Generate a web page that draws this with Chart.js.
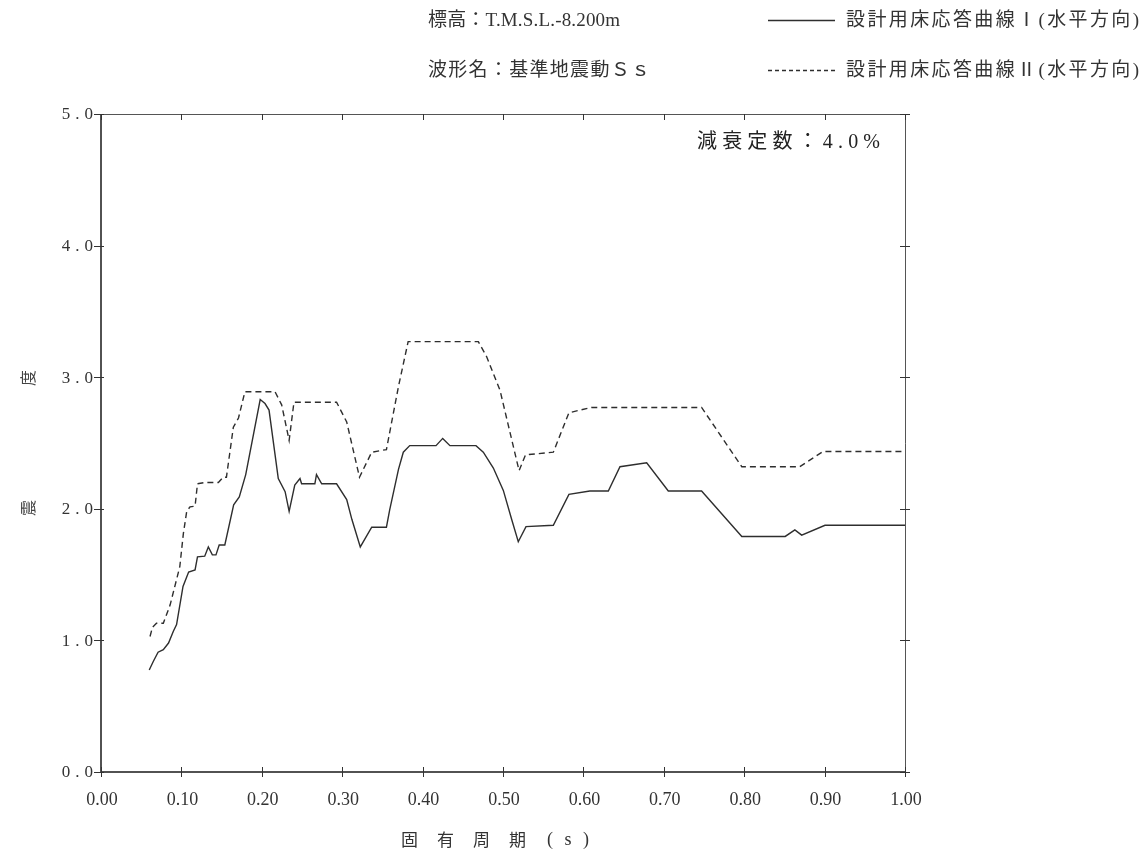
<!DOCTYPE html>
<html lang="ja">
<head>
<meta charset="utf-8">
<title>設計用床応答曲線</title>
<script src="https://cdn.jsdelivr.net/npm/chart.js@4/dist/chart.umd.min.js"></script>
<style>
  html, body { margin: 0; padding: 0; background: #ffffff; }
  #wrap { width: 1141px; height: 855px; position: relative; }
</style>
</head>
<body>
<div id="wrap"><canvas id="c" width="1141" height="855"></canvas></div>
<script>
// 固有周期 (s) と 震度 の組 — 設計用床応答曲線 I (水平方向)
const periodI = [0.060,0.065,0.071,0.0775,0.084,0.090,0.094,0.102,0.109,0.117,0.120,0.129,0.1335,0.1385,0.143,0.147,0.154,0.165,0.172,0.180,0.198,0.204,0.209,0.2205,0.229,0.234,0.241,0.2475,0.2495,0.266,0.268,0.2745,0.293,0.3056,0.312,0.3225,0.3367,0.355,0.359,0.370,0.376,0.384,0.4167,0.425,0.434,0.4664,0.4755,0.488,0.5004,0.511,0.519,0.5286,0.5626,0.582,0.608,0.631,0.6455,0.6787,0.7056,0.747,0.797,0.851,0.863,0.8715,0.9005,1.0];
const accelI  = [0.775,0.84,0.91,0.93,0.98,1.07,1.12,1.41,1.52,1.535,1.635,1.64,1.71,1.65,1.65,1.725,1.725,2.03,2.09,2.26,2.83,2.80,2.75,2.23,2.13,1.98,2.18,2.23,2.19,2.19,2.26,2.19,2.19,2.07,1.92,1.71,1.86,1.86,1.99,2.30,2.43,2.48,2.48,2.535,2.48,2.48,2.43,2.31,2.14,1.915,1.75,1.865,1.875,2.11,2.135,2.135,2.32,2.35,2.135,2.135,1.79,1.79,1.84,1.80,1.875,1.875];

// 設計用床応答曲線 II (水平方向)
const periodII = [0.061,0.064,0.069,0.0775,0.086,0.098,0.1024,0.1066,0.1107,0.117,0.120,0.129,0.146,0.152,0.156,0.1646,0.171,0.179,0.2164,0.2247,0.234,0.240,0.293,0.3056,0.3215,0.3367,0.355,0.370,0.382,0.4693,0.4797,0.4963,0.520,0.528,0.5626,0.582,0.610,0.747,0.797,0.869,0.898,1.0];
const accelII  = [1.03,1.10,1.13,1.13,1.27,1.56,1.81,1.98,2.015,2.02,2.19,2.20,2.20,2.24,2.24,2.62,2.69,2.89,2.89,2.79,2.52,2.81,2.81,2.66,2.24,2.43,2.45,2.93,3.27,3.27,3.155,2.90,2.29,2.41,2.43,2.73,2.77,2.77,2.32,2.32,2.435,2.435];

// 目盛
const xTicks = [0.0,0.1,0.2,0.3,0.4,0.5,0.6,0.7,0.8,0.9,1.0];
const xTickLabels = ['0.00','0.10','0.20','0.30','0.40','0.50','0.60','0.70','0.80','0.90','1.00'];
const yTicks = [0,1,2,3,4,5];
const yTickLabels = ['0.0','1.0','2.0','3.0','4.0','5.0'];

// 表示文字
const seriesNames = ['設計用床応答曲線Ⅰ(水平方向)', '設計用床応答曲線Ⅱ(水平方向)'];
const headerLines = ['標高：T.M.S.L.-8.200m', '波形名：基準地震動Ｓｓ'];
const dampingText = '減衰定数：4.0%';
const xTitleMain = '固有周期';
const xTitleUnit = '(s)';
const yTitleChars = ['震', '度'];

const toPoints = (xs, ys) => xs.map((x, i) => ({ x: x, y: ys[i] }));

const LINE = '#2e2e2e';
const DASH = [6, 4];
// 欧文はセリフ体、和文は Noto Sans CJK
const MIXED = '"Liberation Serif", "Noto Sans CJK JP", serif';
const CJK = '"Noto Sans CJK JP", "Noto Sans CJK SC", sans-serif';
const NUM = '"Liberation Serif", "DejaVu Serif", serif';

// 指定幅に収まるよう字間を調整して描く
function spacedText(ctx, text, x, y, width) {
  ctx.letterSpacing = '0px';
  const w = ctx.measureText(text).width;
  const n = Array.from(text).length;
  const gap = n > 1 ? (width - w) / (n - 1) : 0;
  ctx.letterSpacing = gap.toFixed(2) + 'px';
  ctx.fillText(text, x, y);
  ctx.letterSpacing = '0px';
}

const framePlugin = {
  id: 'frame',
  afterDraw(chart) {
    const ctx = chart.ctx;
    const a = chart.chartArea;
    const xs = chart.scales.x, ys = chart.scales.y;
    ctx.save();

    // 枠
    ctx.strokeStyle = '#555';
    ctx.lineWidth = 1;
    ctx.beginPath();
    ctx.moveTo(a.left, a.top + 0.5); ctx.lineTo(a.right + 0.5, a.top + 0.5);
    ctx.lineTo(a.right + 0.5, a.bottom);
    ctx.stroke();
    ctx.strokeStyle = '#1a1a1a';
    ctx.lineWidth = 1.5;
    ctx.beginPath();
    ctx.moveTo(a.left, a.top); ctx.lineTo(a.left, a.bottom); ctx.lineTo(a.right + 0.5, a.bottom);
    ctx.stroke();

    // 目盛線
    ctx.lineWidth = 1;
    ctx.strokeStyle = '#333';
    ctx.beginPath();
    xTicks.forEach(v => {
      const px = Math.round(xs.getPixelForValue(v)) + 0.5;
      ctx.moveTo(px, a.bottom - 5); ctx.lineTo(px, a.bottom + 5);
      ctx.moveTo(px, a.top); ctx.lineTo(px, a.top + 6);
    });
    yTicks.forEach(v => {
      const py = Math.round(ys.getPixelForValue(v)) + 0.5;
      ctx.moveTo(a.left - 7, py); ctx.lineTo(a.left + 3, py);
      ctx.moveTo(a.right - 5, py); ctx.lineTo(a.right + 5, py);
    });
    ctx.stroke();

    // 目盛ラベル
    ctx.fillStyle = '#333';
    ctx.font = '18px ' + NUM;
    ctx.letterSpacing = '0px';
    ctx.textBaseline = 'middle';
    ctx.textAlign = 'center';
    xTicks.forEach((v, i) => {
      ctx.fillText(xTickLabels[i], xs.getPixelForValue(v) + 1, a.bottom + 28);
    });
    ctx.font = '17px ' + NUM;
    ctx.letterSpacing = '5px';
    ctx.textAlign = 'right';
    yTicks.forEach((v, i) => {
      ctx.fillText(yTickLabels[i], a.left - 3, ys.getPixelForValue(v) + 1);
    });
    ctx.letterSpacing = '0px';

    // 軸タイトル
    ctx.textAlign = 'left';
    ctx.font = '17px ' + CJK;
    spacedText(ctx, xTitleMain, 401, 840, 125);
    ctx.font = '18px ' + NUM;
    spacedText(ctx, xTitleUnit, 547, 840, 42);

    ctx.font = '16px ' + CJK;
    ctx.fillStyle = '#444';
    ctx.textAlign = 'center';
    const yTitlePos = [508, 378];
    yTitleChars.forEach((ch, i) => {
      ctx.save();
      ctx.translate(28, yTitlePos[i]);
      ctx.rotate(-Math.PI / 2);
      ctx.fillText(ch, 0, 0);
      ctx.restore();
    });

    // 減衰定数
    ctx.textAlign = 'left';
    ctx.font = '20px ' + MIXED;
    ctx.fillStyle = '#222';
    spacedText(ctx, dampingText, 697, 143, 183);

    // 見出しと凡例
    ctx.font = '19px ' + MIXED;
    ctx.fillStyle = '#333';
    spacedText(ctx, headerLines[0], 428, 21, 192);
    spacedText(ctx, headerLines[1], 428, 71, 222);

    ctx.strokeStyle = LINE;
    ctx.lineWidth = 1.3;
    ctx.beginPath();
    ctx.moveTo(768, 20.5); ctx.lineTo(835, 20.5);
    ctx.stroke();
    ctx.setLineDash([4, 3]);
    ctx.beginPath();
    ctx.moveTo(768, 70.5); ctx.lineTo(835, 70.5);
    ctx.stroke();
    ctx.setLineDash([]);

    spacedText(ctx, seriesNames[0], 846, 21, 293);
    spacedText(ctx, seriesNames[1], 846, 71, 293);

    ctx.restore();
  }
};

new Chart(document.getElementById('c'), {
  type: 'line',
  data: {
    datasets: [
      {
        label: seriesNames[0],
        data: toPoints(periodI, accelI),
        borderColor: LINE,
        borderWidth: 1.4,
        pointRadius: 0,
        tension: 0,
        fill: false
      },
      {
        label: seriesNames[1],
        data: toPoints(periodII, accelII),
        borderColor: LINE,
        borderWidth: 1.4,
        borderDash: DASH,
        pointRadius: 0,
        tension: 0,
        fill: false
      }
    ]
  },
  options: {
    responsive: false,
    devicePixelRatio: 1,
    animation: false,
    events: [],
    layout: { padding: { left: 101, top: 114, right: 236, bottom: 83 } },
    plugins: {
      legend: { display: false },
      title: { display: false },
      tooltip: { enabled: false }
    },
    scales: {
      x: { type: 'linear', min: 0, max: 1, display: false },
      y: { type: 'linear', min: 0, max: 5, display: false }
    }
  },
  plugins: [framePlugin]
});
</script>
</body>
</html>
